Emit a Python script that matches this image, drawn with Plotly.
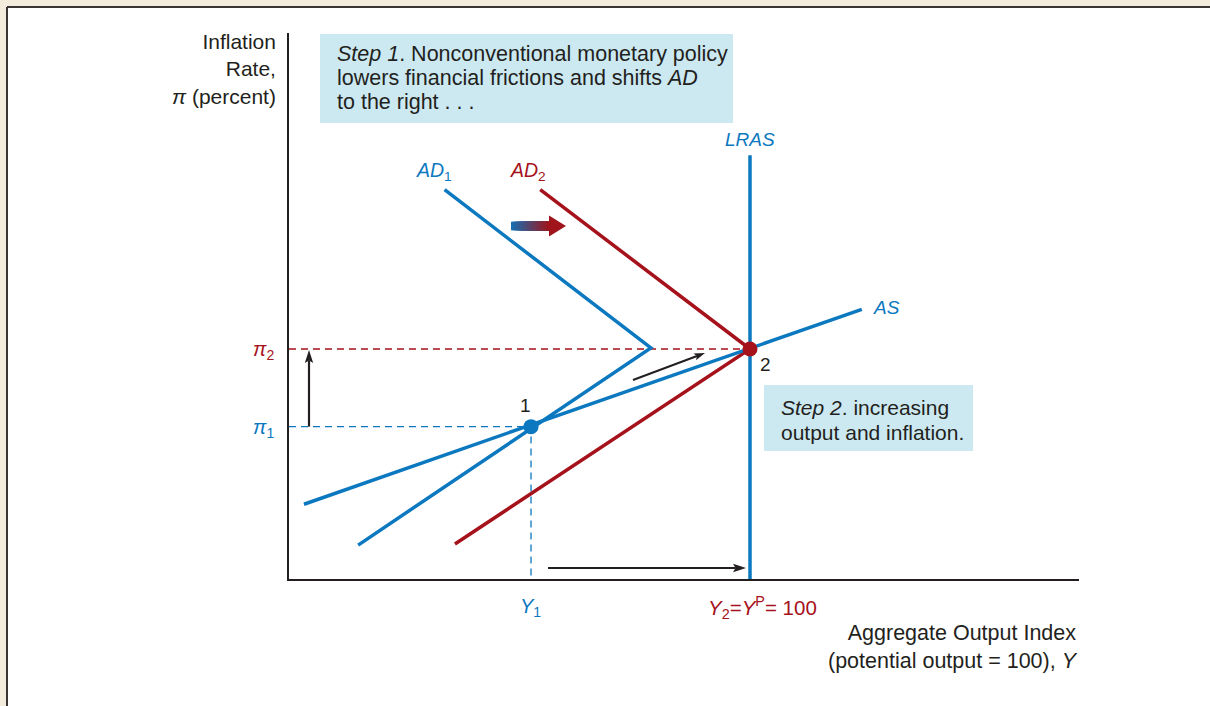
import math
import plotly.graph_objects as go

# ---------------- data ----------------
# aggregate output index (x) and inflation rate in percent (y)
y1_val = 81.0          # Y1
yp_val = 100.0         # Y2 = YP = 100
pi1_val = 2.65         # pi1
pi2_val = 4.0          # pi2

as_x = [61.3, 109.7]
as_y = [1.3, 4.69]

ad1_x = [73.5, 91.4, 66.0]
ad1_y = [6.77, 4.02, 0.59]

ad2_x = [81.8, 100.0, 74.4]
ad2_y = [6.77, 4.0, 0.61]

lras_x = [100.0, 100.0]
lras_y = [0.0, 7.37]

eq_x = [y1_val, yp_val]
eq_y = [pi1_val, pi2_val]
eq_labels = ["1", "2"]

# ---------------- styling ----------------
BLUE = "#0b78bf"
RED = "#a6121b"
TXT = "#231f20"
BOX = "#cce9f1"
BEIGE = "#f3ebdb"
FONT = "Liberation Sans, Arial, sans-serif"

W, H = 1210, 706
ML, MR, MT, MB = 289, 131, 33, 127
X0 = 60.0
PXX = 11.525   # px per x unit
PXY = 57.5     # px per y unit
XR = [X0, X0 + (W - ML - MR) / PXX]
YR = [0, (H - MT - MB) / PXY]


def px_x(px):
    return X0 + (px - ML) / PXX


def px_y(py):
    return (H - MB - py) / PXY


def to_px(x, y):
    return ML + (x - X0) * PXX, H - MB - y * PXY


def paper_x(px):
    return (px - ML) / (W - ML - MR)


def paper_y(py):
    return (H - MB - py) / (H - MT - MB)


fig = go.Figure()

# dashed guide lines
fig.add_trace(go.Scatter(x=[XR[0], yp_val], y=[pi2_val, pi2_val], mode="lines",
                         line=dict(color=RED, width=1.3, dash="7px,5px"), hoverinfo="skip"))
fig.add_trace(go.Scatter(x=[XR[0], y1_val, y1_val], y=[pi1_val, pi1_val, 0], mode="lines",
                         line=dict(color=BLUE, width=1.3, dash="7px,5px"), hoverinfo="skip"))

# curves
fig.add_trace(go.Scatter(x=lras_x, y=lras_y, mode="lines", line=dict(color=BLUE, width=3.5)))
fig.add_trace(go.Scatter(x=ad1_x, y=ad1_y, mode="lines", line=dict(color=BLUE, width=3.5)))
fig.add_trace(go.Scatter(x=ad2_x, y=ad2_y, mode="lines", line=dict(color=RED, width=3.5)))
fig.add_trace(go.Scatter(x=as_x, y=as_y, mode="lines", line=dict(color=BLUE, width=3.5)))

# equilibrium points
fig.add_trace(go.Scatter(x=eq_x, y=eq_y, mode="markers",
                         marker=dict(size=15, color=[BLUE, RED], line=dict(width=0))))

shapes = []
# white panel with frame
shapes.append(dict(type="rect", xref="paper", yref="paper", layer="below",
                   x0=paper_x(8), x1=paper_x(1220), y0=paper_y(8), y1=paper_y(720),
                   fillcolor="white", line=dict(width=0)))
shapes.append(dict(type="line", xref="paper", yref="paper",
                   x0=paper_x(7), x1=paper_x(1220), y0=paper_y(7), y1=paper_y(7),
                   line=dict(color="#3a3533", width=2)))
shapes.append(dict(type="line", xref="paper", yref="paper",
                   x0=paper_x(7), x1=paper_x(7), y0=paper_y(7), y1=paper_y(720),
                   line=dict(color="#3a3533", width=2)))
# text boxes
shapes.append(dict(type="rect", xref="paper", yref="paper", layer="below",
                   x0=paper_x(320), x1=paper_x(733), y0=paper_y(123), y1=paper_y(34),
                   fillcolor=BOX, line=dict(width=0)))
shapes.append(dict(type="rect", xref="paper", yref="paper", layer="below",
                   x0=paper_x(764), x1=paper_x(973), y0=paper_y(451), y1=paper_y(385),
                   fillcolor=BOX, line=dict(width=0)))


# gradient shift arrow
def lerp_col(c1, c2, t):
    a = [int(c1[i:i + 2], 16) for i in (1, 3, 5)]
    b = [int(c2[i:i + 2], 16) for i in (1, 3, 5)]
    return "rgb(%d,%d,%d)" % tuple(round(a[k] + (b[k] - a[k]) * t) for k in range(3))


sx0, sx1, sx2 = px_x(511), px_x(549), px_x(566)
sy = px_y(226)
half_shaft = 4.3 / PXY
half_head = 10.5 / PXY
n = 30
for i in range(n):
    t0 = sx0 + (sx1 - sx0) * i / n
    shapes.append(dict(type="rect", xref="x", yref="y", x0=t0, x1=sx1 + 0.05,
                       y0=sy - half_shaft, y1=sy + half_shaft,
                       fillcolor=lerp_col("#1570b3", "#a0141c", (i + 0.5) / n), line=dict(width=0)))
shapes.append(dict(type="path", xref="x", yref="y",
                   path="M %f,%f L %f,%f L %f,%f Z" % (sx1, sy - half_head, sx2, sy, sx1, sy + half_head),
                   fillcolor="#a0141c", line=dict(width=0)))


# black movement arrows: shaft line + filled narrow head
def arrow(x_head, y_head, x_tail, y_tail, length=13.0, half_w=4.2, notch=2.5, width=2.2):
    hx, hy = to_px(x_head, y_head)
    tx, ty = to_px(x_tail, y_tail)
    d = math.hypot(hx - tx, hy - ty)
    ux, uy = (hx - tx) / d, (hy - ty) / d
    nx, ny = -uy, ux
    bx, by = hx - ux * length, hy - uy * length
    mx, my = hx - ux * (length - notch), hy - uy * (length - notch)
    pts = [(hx, hy), (bx + nx * half_w, by + ny * half_w), (mx, my), (bx - nx * half_w, by - ny * half_w)]
    path = "M " + " L ".join("%f,%f" % (px_x(px), px_y(py)) for px, py in pts) + " Z"
    shapes.append(dict(type="line", xref="x", yref="y", x0=x_tail, y0=y_tail,
                       x1=px_x(mx), y1=px_y(my), line=dict(color=TXT, width=width)))
    shapes.append(dict(type="path", xref="x", yref="y", path=path, fillcolor=TXT, line=dict(width=0)))


arrow(px_x(309), px_y(350), px_x(309), pi1_val)
arrow(px_x(746), px_y(568), px_x(548), px_y(568))
arrow(px_x(705), px_y(353), px_x(633), px_y(380), length=11.0, half_w=3.6, width=2.0)

annotations = []


def label(text, px, py, color=TXT, size=20, xanchor="center", yanchor="middle", align="center"):
    annotations.append(dict(text=text, xref="paper", yref="paper", x=paper_x(px), y=paper_y(py),
                            xanchor=xanchor, yanchor=yanchor, align=align, showarrow=False,
                            font=dict(family=FONT, size=size, color=color)))


label("Inflation<br>Rate,<br><i>π</i> (percent)", 278, 69, size=21, xanchor="right", align="right")
label("Aggregate Output Index<br>(potential output = 100), <i>Y</i>", 1080, 647, size=21.5,
      xanchor="right", align="right")
step1_lines = ["<i>Step 1</i>. Nonconventional monetary policy",
               "lowers financial frictions and shifts <i>AD</i>",
               "to the right . . ."]
for k, ln in enumerate(step1_lines):
    label(ln, 335, 54 + 24 * k, size=21.5, xanchor="left", align="left")
step2_lines = ["<i>Step 2</i>. increasing", "output and inflation."]
for k, ln in enumerate(step2_lines):
    label(ln, 779, 407 + 25 * k, size=21, xanchor="left", align="left")
label("<i>LRAS</i>", 750, 139, color=BLUE, size=19)
label("<i>AD</i><sub>1</sub>", 434, 171, color=BLUE, size=19.5)
label("<i>AD</i><sub>2</sub>", 528, 171, color=RED, size=19.5)
label("<i>AS</i>", 886, 307, color=BLUE, size=19)
label("<i>π</i><sub>2</sub>", 263, 351, color=RED, size=20)
label("<i>π</i><sub>1</sub>", 263, 428, color=BLUE, size=20)
label("<i>Y</i><sub>1</sub>", 530, 607, color=BLUE, size=20)
label("<i>Y</i><sub>2</sub>=<i>Y</i><sup>P</sup>= 100", 762, 607, color=RED, size=20.5)
label(eq_labels[0], 525, 405, size=19)
label(eq_labels[1], 765, 364, size=19)

fig.update_layout(
    width=W, height=H,
    margin=dict(l=ML, r=MR, t=MT, b=MB, pad=0),
    paper_bgcolor=BEIGE, plot_bgcolor="white",
    showlegend=False,
    xaxis=dict(range=XR, showgrid=False, zeroline=False, showticklabels=False, ticks="",
               showline=True, linecolor=TXT, linewidth=1.6, fixedrange=True),
    yaxis=dict(range=YR, showgrid=False, zeroline=False, showticklabels=False, ticks="",
               showline=True, linecolor=TXT, linewidth=1.6, fixedrange=True),
    shapes=shapes,
    annotations=annotations,
    font=dict(family=FONT, color=TXT),
)

fig.write_html("out.html", config={"displayModeBar": False},
               post_script="document.body.style.margin='0';document.body.style.overflow='hidden';")
